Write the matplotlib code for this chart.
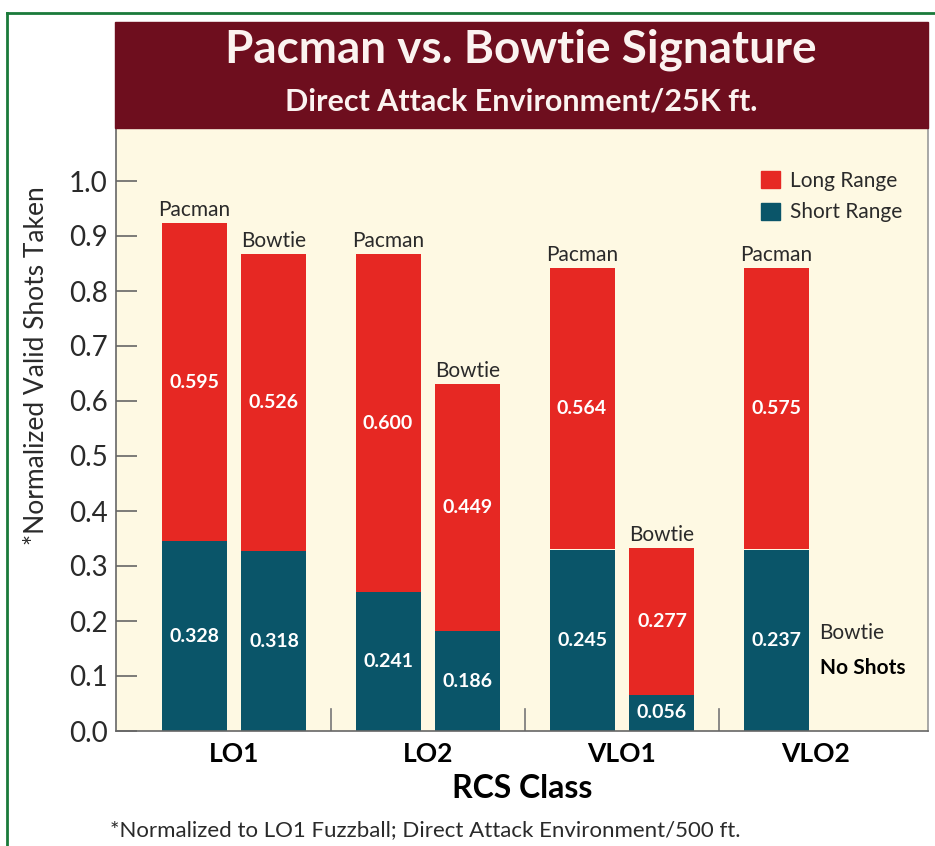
import matplotlib
matplotlib.use('Agg')
import matplotlib.pyplot as plt
import matplotlib.patches as patches
from matplotlib.lines import Line2D
import numpy as np

plt.rcParams['font.family'] = ['Lato', 'DejaVu Sans']

# data (bar heights as drawn, labels as printed)
categories = ['LO1', 'LO2', 'VLO1', 'VLO2']
pacman_short = [0.345, 0.252, 0.330, 0.330]
pacman_long = [0.578, 0.615, 0.511, 0.511]
bowtie_short = [0.327, 0.181, 0.066, 0.0]
bowtie_long = [0.540, 0.449, 0.266, 0.0]
pacman_short_lbl = ['0.328', '0.241', '0.245', '0.237']
pacman_long_lbl = ['0.595', '0.600', '0.564', '0.575']
bowtie_short_lbl = ['0.318', '0.186', '0.056', '']
bowtie_long_lbl = ['0.526', '0.449', '0.277', '']

RED = '#E62823'
TEAL = '#0A5569'
CREAM = '#FEF9E3'
MAROON = '#6E0E1E'
GREEN = '#1A7A3A'
DARK = '#2A2A2A'

W, H = 935, 846
fig = plt.figure(figsize=(W / 100, H / 100), dpi=100)

# axes placed in pixel terms of the reference
ax_l, ax_r, ax_t, ax_b = 116, 928, 128, 731
ax = fig.add_axes([ax_l / W, 1 - ax_b / H, (ax_r - ax_l) / W, (ax_b - ax_t) / H])
ax.set_facecolor(CREAM)

x = np.arange(len(categories))
width = 0.335
off = 0.206

ax.bar(x - off, pacman_short, width, color=TEAL, zorder=2)
ax.bar(x - off, pacman_long, width, bottom=pacman_short, color=RED, zorder=2)
ax.bar(x + off, bowtie_short, width, color=TEAL, zorder=2)
ax.bar(x + off, bowtie_long, width, bottom=bowtie_short, color=RED, zorder=2)

val_kw = dict(ha='center', va='center', color='white', fontsize=14, fontweight='bold', zorder=3)
name_kw = dict(ha='center', va='bottom', color=DARK, fontsize=15, zorder=3)
for i in range(len(categories)):
    ps, pl = pacman_short[i], pacman_long[i]
    ax.text(x[i] - off, ps / 2, pacman_short_lbl[i], **val_kw)
    ax.text(x[i] - off, ps + pl / 2, pacman_long_lbl[i], **val_kw)
    ax.text(x[i] - off, ps + pl + 0.006, 'Pacman', **name_kw)
    bs, bl = bowtie_short[i], bowtie_long[i]
    if bs + bl > 0:
        ax.text(x[i] + off, bs / 2, bowtie_short_lbl[i], **val_kw)
        ax.text(x[i] + off, bs + bl / 2, bowtie_long_lbl[i], **val_kw)
        ax.text(x[i] + off, bs + bl + 0.006, 'Bowtie', **name_kw)
    else:
        ax.text(x[i] + off - width / 2 - 0.02, 0.178, 'Bowtie', ha='left', va='center',
                color=DARK, fontsize=15)
        ax.text(x[i] + off - width / 2 - 0.02, 0.115, 'No Shots', ha='left', va='center',
                color='black', fontsize=15, fontweight='bold')

# small separators between groups on the baseline
for s in x[:-1] + 0.5:
    ax.plot([s, s], [0, 0.04], color='#777777', lw=1.2, zorder=1)

ax.set_xlim((ax_l - 234) / 194, (ax_r - 234) / 194)
ax.set_ylim(0, (ax_b - ax_t) / 550)
ax.set_yticks(np.arange(0, 1.01, 0.1))
ax.set_yticklabels([f'{v:.1f}' for v in np.arange(0, 1.01, 0.1)], fontsize=20, color=DARK)
ax.tick_params(axis='y', direction='in', length=15, width=1.2, color='#666666', pad=6)
ax.set_xticks(x)
ax.set_xticklabels(categories, fontsize=19, fontweight='bold', color='black')
ax.tick_params(axis='x', length=0, pad=8)
ax.set_xlabel('RCS Class', fontsize=23, fontweight='bold', color='black', labelpad=6)

ax.spines['top'].set_visible(False)
for side in ['left', 'bottom', 'right']:
    ax.spines[side].set_color('#666666')
    ax.spines[side].set_linewidth(1.2)
ax.spines['right'].set_color('#999999')

legend_handles = [patches.Patch(color=RED, label='Long Range'),
                  patches.Patch(color=TEAL, label='Short Range')]
ax.legend(handles=legend_handles, loc='upper left', bbox_to_anchor=(0.782, 0.946),
          frameon=False, fontsize=15, handlelength=0.9, handleheight=0.9,
          handletextpad=0.45, labelspacing=0.55, borderpad=0, labelcolor=DARK)

# title banner
fig.patches.append(patches.Rectangle((115 / W, 1 - 128 / H), (928 - 115) / W, 106 / H,
                                     transform=fig.transFigure, color=MAROON, zorder=0))
fig.text(521 / W, 1 - 50 / H, 'Pacman vs. Bowtie Signature', ha='center', va='center',
         fontsize=33, fontweight='bold', color='#FBF3F0')
fig.text(521 / W, 1 - 102 / H, 'Direct Attack Environment/25K ft.', ha='center', va='center',
         fontsize=22, fontweight='bold', color='#FBF3F0')

# y label and footnote
fig.text(37 / W, 1 - 366 / H, '*Normalized Valid Shots Taken', rotation=90, ha='center',
         va='center', fontsize=19, color=DARK)
fig.text(110 / W, 1 - 830 / H, '*Normalized to LO1 Fuzzball; Direct Attack Environment/500 ft.',
         ha='left', va='center', fontsize=16, color=DARK)

# green frame (top and left edges visible)
fig.lines.append(Line2D([7 / W, 1], [1 - 13 / H, 1 - 13 / H], transform=fig.transFigure,
                        color=GREEN, lw=2))
fig.lines.append(Line2D([7 / W, 7 / W], [0, 1 - 13 / H], transform=fig.transFigure,
                        color=GREEN, lw=2))

fig.savefig('out.png', dpi=100)
